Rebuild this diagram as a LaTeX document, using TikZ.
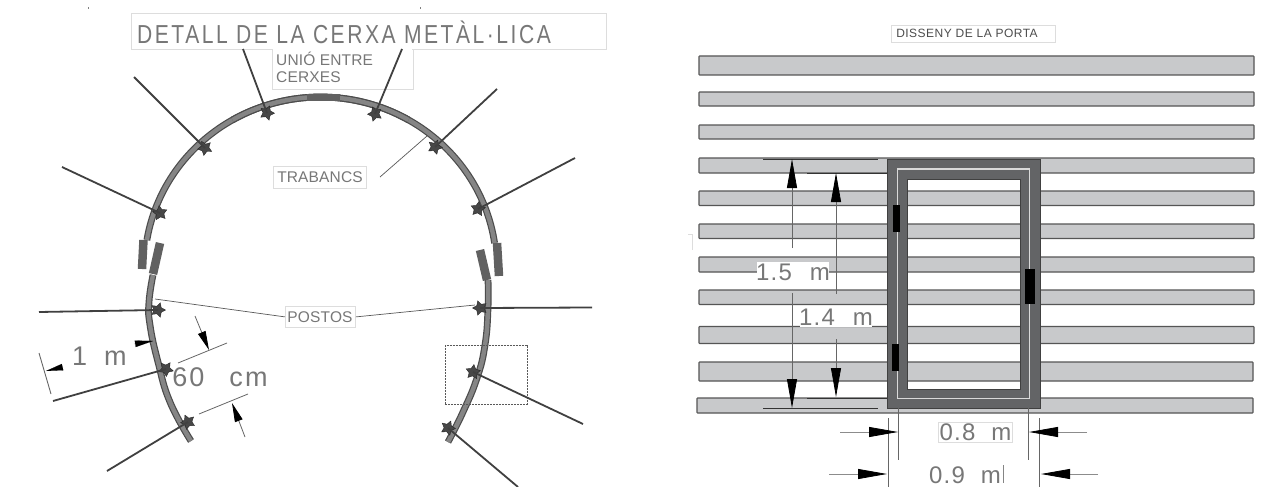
\documentclass[tikz,border=0pt]{standalone}
\usepackage{fontspec}
\setmainfont{Liberation Sans}
\usetikzlibrary{arrows.meta,shapes.geometric}
\definecolor{txt}{HTML}{777777}
\definecolor{boxc}{HTML}{DDDDDD}
\definecolor{barfill}{HTML}{C8C9CB}
\definecolor{bardraw}{HTML}{555555}
\definecolor{frame}{HTML}{636466}
\tikzset{
  x=1pt,y=-1pt,
  label box/.style={draw=boxc,line width=0.8pt,fill=white,inner sep=0,anchor=north west},
  cad/.style={text=txt,inner sep=0,anchor=center},
  strut/.style={draw=black!75,line width=1.8pt},
  pin/.style={fill=black,draw=none},
  band/.style={line width=6.8pt,draw=black!70,line join=round},
  bandin/.style={line width=4.4pt,draw=black!48,line join=round},
  splice/.style={line width=8.5pt,draw=black!62},
  barr/.style={draw=bardraw,line width=1.1pt,fill=barfill},
  leader/.style={draw=black!65,line width=0.7pt},
  dim/.style={draw=black!60,line width=0.8pt},
  bighead/.style={dim,-{Triangle[length=29pt,width=10pt,black]}},
  smallhead/.style={dim,-{Triangle[length=19pt,width=8pt,black]}},
  starm/.style={star,star points=5,star point ratio=1.9,minimum size=15pt,fill=black!72,draw=black!85,line width=0.4pt,inner sep=0}
}
\newcommand{\anchorstar}[4]{% name, x, y, rotation
  \node[starm,rotate=#4] (#1) at (#2,#3) {};
}
\newcommand{\smallfont}{\fontsize{15.5}{17}\selectfont\addfontfeature{LetterSpace=1}}
\newcommand{\bigfont}{\fontsize{27}{27}\selectfont\addfontfeature{LetterSpace=8}}
\newcommand{\midfont}{\fontsize{24}{24}\selectfont\addfontfeature{LetterSpace=5}}
\begin{document}
\begin{tikzpicture}
\useasboundingbox (0,0) rectangle (1264,487);
\fill[white] (0,0) rectangle (1264,487);
% stray marks
\fill[black!50] (87.5,7.5) rectangle (89,9);
\fill[black!50] (419.5,7.5) rectangle (421,9);
\draw[boxc,line width=0.8pt] (688,234.5) -- (692.5,234.5) -- (692.5,250);

% ---- arcs
\def\lowerleft{(153,275) (149,302) (150,325) (158,362) (170,402) (191,441)}
\def\lowerright{(488,280) (488,308) (485,345) (477,378) (463,412) (448,442)}
\draw[band] plot[smooth,tension=0.8] coordinates {\lowerleft};
\draw[bandin] plot[smooth,tension=0.8] coordinates {\lowerleft};
\draw[band] plot[smooth,tension=0.8] coordinates {\lowerright};
\draw[bandin] plot[smooth,tension=0.8] coordinates {\lowerright};
\draw[band] plot[domain=8.4:170.6,samples=60,smooth] ({320.5+176*cos(\x)},{268-171*sin(\x)});
\draw[bandin] plot[domain=8.4:170.6,samples=60,smooth] ({320.5+176*cos(\x)},{268-171*sin(\x)});

% ---- left: labels' boxes
\node[label box,minimum width=475pt,minimum height=36pt] (titlebox) at (130.5,13) {};
\node[label box,minimum width=141pt,minimum height=40pt] (uniobox) at (272,49) {};
\node[label box,minimum width=93pt,minimum height=22pt] (trabox) at (273,166) {};
\node[label box,minimum width=70pt,minimum height=21pt] (postbox) at (285,306) {};
\fill[white] (273,48) rectangle (412,50);
% arc passes in front of the UNIÓ box floor
\draw[band] plot[domain=60:120,samples=30,smooth] ({320.5+176*cos(\x)},{268-171*sin(\x)});
\draw[bandin] plot[domain=60:120,samples=30,smooth] ({320.5+176*cos(\x)},{268-171*sin(\x)});
\node[cad,font=\fontsize{26}{26}\selectfont\addfontfeature{LetterSpace=12}] (title) at (344,32.5) {\scalebox{0.81}[1]{DETALL DE LA CERXA METÀL·LICA}};
\node[cad,font=\smallfont,align=left,anchor=north west] (unio) at (276,52) {UNIÓ ENTRE\\[-0.2pt]CERXES};
\node[cad,font=\smallfont] (trab) at (320,177) {TRABANCS};
\node[cad,font=\smallfont] (post) at (320,317) {POSTOS};

\draw[splice] (143.5,240) -- (142,269);
\draw[splice] (160,243) -- (153,274);
\draw[splice] (480,250) -- (487,280);
\draw[splice] (497,243) -- (499,276);
\draw[line width=7pt,draw=black!62] (307,97.5) -- (340,97.5);

% ---- detail rectangle
\node[draw=black!65,line width=0.6pt,dash pattern=on 1pt off 0.5pt,inner sep=0,minimum width=82pt,minimum height=59.5pt,anchor=north west] (detail) at (444.5,344.5) {};

% ---- anchors and struts
\coordinate (e1) at (39,312);
\coordinate (e2) at (53,401);
\coordinate (e3) at (107,471);
\coordinate (e4) at (592,307.5);
\coordinate (e5) at (583,424);
\coordinate (e6) at (518,487);
\coordinate (e7) at (62,167);
\coordinate (e8) at (134,77);
\coordinate (e9) at (243,49);
\coordinate (e10) at (402,49);
\coordinate (e11) at (497,89);
\coordinate (e12) at (575,158);
\anchorstar{a1}{158}{310}{-90}
\anchorstar{a2}{166}{369}{-105}
\anchorstar{a3}{188}{422}{-120}
\anchorstar{a4}{480}{308}{90}
\anchorstar{a5}{473}{372}{65}
\anchorstar{a6}{448}{428}{50}
\anchorstar{a7}{160}{213}{-65}
\anchorstar{a8}{205}{148}{-45}
\anchorstar{a9}{267}{113}{-20}
\anchorstar{a10}{375}{114}{20}
\anchorstar{a11}{435}{147}{50}
\anchorstar{a12}{478}{209}{65}
\foreach \i in {1,...,12}{ \draw[strut] (e\i) -- (a\i.center); }

% ---- leaders
\coordinate (t0) at (380,177);
\coordinate (t1) at (427,136);
\coordinate (p1) at (155,299);
\coordinate (p2) at (475,305);
\draw[leader] (t0) -- (t1);
\draw[leader] (postbox.west) -- (p1);
\draw[leader] (postbox.east) -- (p2);

% ---- 1 m, 60 cm
\coordinate (m1) at (39,353); \coordinate (m2) at (51,394);
\draw[dim,line width=0.9pt] (m1) -- (m2);
\node[cad,font=\bigfont] (onem) at (99.5,356) {1\hspace{17pt}m};
\coordinate (m3) at (63,367); \coordinate (m4) at (46,371);
\coordinate (m5) at (134,344); \coordinate (m6) at (153,341);
\draw[-{Triangle[length=17pt,width=6.5pt,black]},line width=0.1pt] (m3) -- (m4);
\draw[-{Triangle[length=18pt,width=6.5pt,black]},line width=0.1pt] (m5) -- (m6);
\coordinate (c1) at (178,363); \coordinate (c2) at (227,343);
\coordinate (c3) at (199,414); \coordinate (c4) at (248,394);
\coordinate (c5) at (195,316); \coordinate (c6) at (209,350);
\coordinate (c7) at (245,437); \coordinate (c8) at (232,403);
\draw[dim] (c1) -- (c2);
\draw[dim] (c3) -- (c4);
\draw[smallhead] (c5) -- (c6);
\draw[smallhead] (c7) -- (c8);
\node[cad,font=\bigfont] (sixty) at (220,377) {60\hspace{25pt}cm};

% ---- right: bars
\foreach \a/\b/\l/\r in {56/75/699/1254,92/106/699/1254,125/139/699/1254,158/173/699/1254,191/205.5/699/1254,224/238.5/699/1254,257/272/699/1254,290/304.5/699/1254,326.5/343.5/699/1254,362/381/699/1253,398/413/697/1253}{
  \draw[barr,rounded corners=0.6pt] (\l,\a) rectangle (\r,\b);
}
\node[label box,minimum width=164pt,minimum height=17pt] (dissbox) at (891,25) {};
\node[cad,font=\fontsize{12}{12}\selectfont\addfontfeature{LetterSpace=4},text=black!70] (diss) at (967,33.5) {DISSENY DE LA PORTA};

% ---- door frame
\fill[frame,even odd rule] (887,159) rectangle (1040,408) (907,179) rectangle (1020,389);
\draw[black!75,line width=0.8pt] (887,159) rectangle (1040,408);
\draw[black!75,line width=0.7pt] (907,179) rectangle (1020,389);
\draw[black!15,line width=1.2pt] (897.5,169) rectangle (1029.5,398.5);
\fill[pin] (893,205) rectangle (900,232);
\fill[pin] (892,344) rectangle (899,371);
\fill[pin] (1025,269) rectangle (1035,304);

% ---- height dimensions
\coordinate (h1) at (763,159); \coordinate (h2) at (878,159);
\coordinate (h3) at (763,408); \coordinate (h4) at (878,408);
\coordinate (h5) at (807,173); \coordinate (h6) at (887,173);
\coordinate (h7) at (807,398); \coordinate (h8) at (887,398);
\draw[dim,black!80] (h1) -- (h2);
\draw[dim,black!80] (h3) -- (h4);
\draw[dim,black!80] (h5) -- (h6);
\draw[dim,black!80] (h7) -- (h8);
\coordinate (u1) at (792,248); \coordinate (u2) at (792,159);
\coordinate (u3) at (792,293); \coordinate (u4) at (792,408);
\coordinate (v1) at (836,294); \coordinate (v2) at (836,173);
\coordinate (v3) at (836,339); \coordinate (v4) at (836,397);
\draw[bighead] (u1) -- (u2);
\draw[bighead] (u3) -- (u4);
\draw[bighead] (v1) -- (v2);
\draw[bighead] (v3) -- (v4);
\node[fill=white,inner sep=0,minimum width=72pt,minimum height=20pt] (l15box) at (793,272) {};
\node[fill=white,inner sep=0,minimum width=72pt,minimum height=19pt] (l14box) at (836,317.5) {};
\node[cad,font=\midfont] (l15) at (793,272) {1.5\hspace{18pt}m};
\node[cad,font=\midfont] (l14) at (836,317.5) {1.4\hspace{18pt}m};

% ---- width dimensions
\coordinate (w1) at (898,408); \coordinate (w2) at (898,460);
\coordinate (w3) at (1028,408); \coordinate (w4) at (1028,460);
\coordinate (w5) at (888,418); \coordinate (w6) at (888,487);
\coordinate (w7) at (1039,418); \coordinate (w8) at (1039,487);
\draw[dim] (w1) -- (w2);
\draw[dim] (w3) -- (w4);
\draw[dim] (w5) -- (w6);
\draw[dim] (w7) -- (w8);
\coordinate (x1) at (840,432); \coordinate (x2) at (898,432);
\coordinate (x3) at (1087,432); \coordinate (x4) at (1029,432);
\coordinate (x5) at (829,474); \coordinate (x6) at (887,474);
\coordinate (x7) at (1098,474); \coordinate (x8) at (1041,474);
\draw[bighead,black!45] (x1) -- (x2);
\draw[bighead,black!45] (x3) -- (x4);
\draw[bighead,black!45] (x5) -- (x6);
\draw[bighead,black!45] (x7) -- (x8);
\node[draw=boxc,line width=0.7pt,inner sep=0,minimum width=74pt,minimum height=20pt,anchor=north west] (b08) at (938,422) {};
\node[cad,font=\midfont] (l08) at (975.5,432) {0.8\hspace{16pt}m};
\node[cad,font=\midfont] (l09) at (965,475) {0.9\hspace{16pt}m};
\coordinate (y1) at (1003,465); \coordinate (y2) at (1003,483);
\draw[boxc!60!black,line width=0.6pt] (y1) -- (y2);
\end{tikzpicture}
\end{document}
